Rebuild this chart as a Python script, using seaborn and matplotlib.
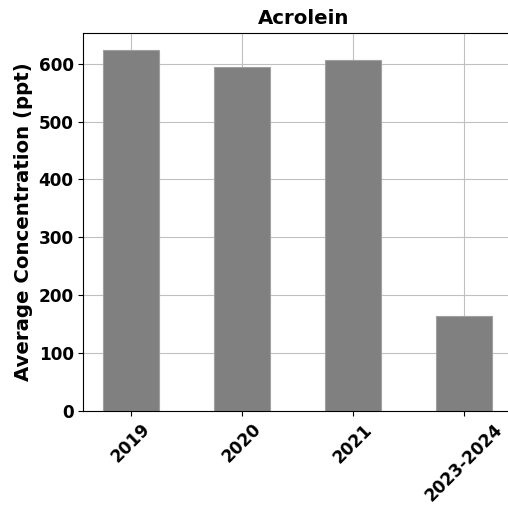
import pandas as pd
import matplotlib.pyplot as plt
import seaborn as sns

periods = ["2019", "2020", "2021", "2023-2024"]
concentration = [623, 594, 606, 164]

df = pd.DataFrame({"period": periods, "conc": concentration})

plt.rcParams["font.family"] = ["DejaVu Sans"]
plt.rcParams["font.weight"] = "bold"

fig = plt.figure(figsize=(5.08, 5.05), dpi=100)
ax = fig.add_axes([0.164, 0.187, 0.869, 0.7485])

sns.barplot(data=df, x="period", y="conc", color="gray", saturation=1,
            width=0.5, edgecolor="#a0a0a0", linewidth=0.8, ax=ax, zorder=2)

ax.set_xlim(-0.43, 3.545)
ax.set_ylim(0, 654)
ax.grid(True, color="#c0c0c0", linewidth=0.8, zorder=0)
ax.set_axisbelow(True)

ax.set_title("Acrolein", fontsize=14.2, fontweight="bold")
ax.set_xlabel("")
ax.set_ylabel("Average Concentration (ppt)", fontsize=14.2, fontweight="bold")
ax.tick_params(axis="both", labelsize=12.2)
plt.setp(ax.get_xticklabels(), rotation=45, fontweight="bold")
plt.setp(ax.get_yticklabels(), fontweight="bold")

fig.savefig("out.png", dpi=100)
